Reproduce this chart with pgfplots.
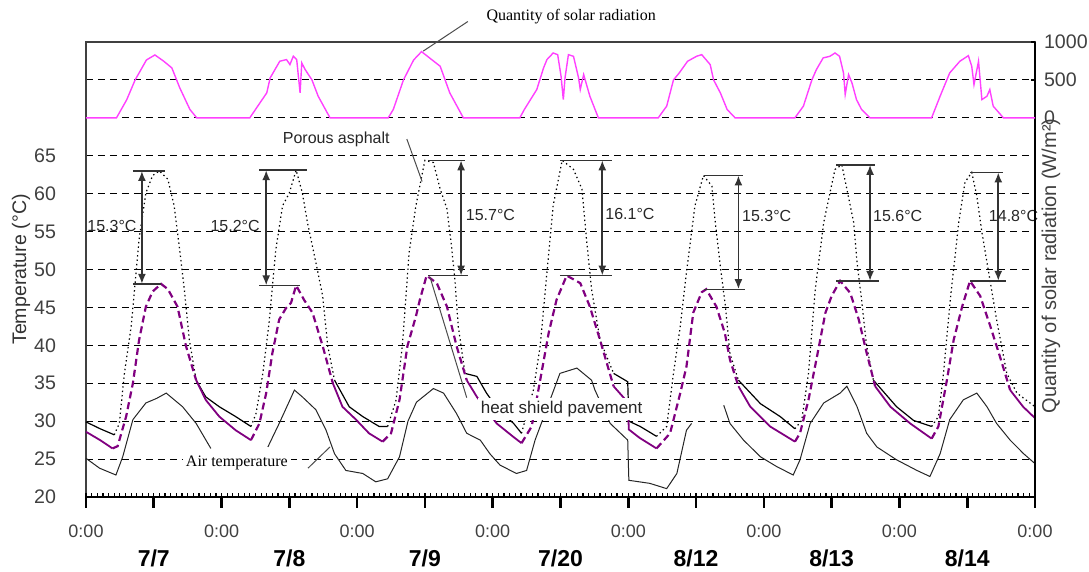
\documentclass[border=0pt]{standalone}
\usepackage{fontspec}
\setmainfont{Liberation Sans}
\newfontfamily\serifface{Liberation Serif}
\usepackage{pgfplots}
\usepackage{pgfplotstable}
\pgfplotsset{compat=1.18}
\usetikzlibrary{arrows.meta}

\definecolor{solar}{RGB}{255,64,255}
\definecolor{hsp}{RGB}{128,0,128}

% h = hours since 0:00 of the first day shown (7 days side by side)
% s = 0 daytime part (dotted / dashed), 1 night part (solid), 0.5 shared point
\pgfplotstableread{
h T s
0 29.9 1
2.5 29.0 1
5.0 28.2 0.5
5.9 29.7 0
6.8 36.3 0
8.0 42.5 0
9.4 54.0 0
10.6 60.1 0
11.8 62.4 0
13.0 63.0 0
14.5 61.9 0
15.6 58.4 0
16.5 53.1 0
17.4 47.4 0
18.3 40.7 0
19.5 35.4 0.5
21.2 33.2 1
23.6 31.9 1
26.5 30.6 1
29.2 29.3 0.5
30.1 31.0 0
31.3 36.3 0
32.4 42.9 0
33.6 52.6 0
34.8 58.4 0
36.0 60.1 0
37.2 63.1 0
38.3 60.1 0
39.2 56.2 0
40.7 50.9 0
41.9 46.5 0
42.8 39.9 0
44.0 35.4 0.5
46.6 31.9 1
49.0 30.6 1
51.9 29.3 1
53.4 29.3 0.5
54.9 32.8 0
56.0 39.9 0
57.2 52.2 0
58.4 58.4 0
60.0 64.4 0
61.5 64.1 0
62.7 60.6 0
63.9 58.0 0
64.7 53.1 0
65.3 48.7 0
65.9 42.5 0
67.1 36.3 0.5
69.2 35.9 1
70.9 33.7 1
73.0 31.5 1
75.7 29.7 1
77.1 28.4 0.5
79.2 34.1 0
80.4 39.9 0
81.6 49.6 0
82.7 58.4 0
84.3 64.4 0
86.3 63.2 0
87.8 60.6 0
88.6 54.0 0
89.5 47.4 0
91.0 40.7 0
93.4 36.3 0.5
95.9 35.2 1
96.1 30.0 1
98.1 29.3 1
101.0 28.0 0.5
102.8 29.3 0
104.0 36.3 0
105.2 42.5 0
106.3 49.6 0
107.8 58.4 0
109.3 62.4 0
110.8 61.0 0
111.4 56.2 0
112.3 50.4 0
113.2 45.1 0
114.0 38.9 0
115.5 35.4 0.5
119.4 32.3 1
122.9 30.6 1
125.5 29.0 0.5
126.7 30.1 0
127.9 36.3 0
129.1 47.4 0
130.6 56.2 0
131.7 60.1 0
132.6 63.2 0
133.8 63.8 0
134.7 60.6 0
135.9 56.2 0
136.5 50.9 0
137.3 46.0 0
138.2 39.9 0
139.4 35.4 0.5
143.5 31.9 1
146.5 30.1 1
149.7 29.3 0.5
150.9 30.6 0
151.8 36.3 0
153.0 46.0 0
154.5 56.2 0
155.6 61.5 0
156.8 62.8 0
157.7 59.7 0
158.6 54.9 0
159.8 49.6 0
161.2 43.4 0
163.0 36.3 0
164.8 33.7 0
168.0 31.9 0
}\asphalt

\pgfplotstableread{
h T s
0 28.6 1
2.5 27.5 1
4.7 26.4 0.5
5.6 26.7 0
7.1 30.6 0
8.3 35.0 0
9.4 40.7 0
10.6 45.1 0
11.8 47.1 0
13.3 48.1 0
14.5 47.4 0
16.2 45.1 0
17.7 39.9 0
19.5 35.4 0.5
21.2 32.8 1
23.6 30.6 1
26.5 28.8 1
29.2 27.5 0.5
30.7 29.7 0
31.9 33.7 0
33.0 39.0 0
34.2 43.4 0
35.4 44.9 0
36.3 45.6 0
37.2 47.9 0
38.6 46.0 0
40.1 44.3 0
41.9 39.9 0
43.7 35.0 0.5
45.4 31.9 1
47.8 30.2 1
50.1 28.4 1
52.5 27.3 0.5
54.0 28.4 0
55.5 32.8 0
56.9 39.9 0
58.4 43.8 0
59.1 46.0 0
60.3 49.2 0
62.1 48.2 0
63.9 45.1 0
65.6 39.9 0
67.4 35.4 0.5
69.2 33.2 1
72.7 29.7 1
75.7 27.9 1
77.1 27.1 0.5
78.9 29.3 0
80.4 35.4 0
81.9 41.6 0
83.3 46.0 0
85.1 49.2 0
87.5 48.2 0
89.2 45.1 0
91.0 40.7 0
93.4 34.6 0.5
95.9 32.5 1
96.1 28.9 1
98.0 27.8 1
101.0 26.4 0.5
103.4 28.4 0
105.2 33.7 0
106.3 37.2 0
107.5 44.3 0
109.0 47.0 0
109.8 47.4 0
111.6 45.1 0
113.1 41.6 0
114.0 38.1 0
115.5 34.6 0.5
117.6 31.9 1
121.1 29.3 1
125.5 27.3 0.5
126.4 28.4 0
127.9 32.8 0
129.4 38.5 0
130.9 44.3 0
132.0 46.5 0
133.5 48.5 0
135.3 46.9 0
136.8 43.4 0
138.2 39.0 0
139.7 34.6 0.5
142.4 31.9 1
145.9 29.7 1
149.7 27.7 0.5
150.9 29.3 0
152.4 35.4 0
153.6 40.7 0
155.1 45.1 0
156.5 48.5 0
158.3 46.5 0
160.1 42.5 0
161.8 38.5 0
163.6 34.1 0.5
165.9 31.9 1
168.0 30.4 1
}\shield

\pgfplotstableread{
h T
0 25.1
2.4 23.8
5.3 22.9
6.5 25.3
8.3 30.2
10.6 32.4
12.5 33.0
14.2 33.7
17.1 31.9
19.5 29.7
22.1 26.4
22.2 nan
32.2 26.6
34.2 29.7
36.9 34.1
38.3 33.2
40.7 31.5
42.5 28.8
44.0 25.7
46.0 23.5
49.0 23.1
51.3 22.0
53.4 22.4
55.5 25.3
57.0 30.0
58.5 32.5
61.5 34.3
63.3 33.7
65.6 31.0
67.4 28.4
69.8 27.5
71.5 25.7
73.3 24.2
76.2 23.1
78.0 23.5
79.5 27.5
80.4 29.3
82.0 32.5
83.9 36.3
86.9 37.0
89.5 35.4
90.1 34.1
92.8 29.7
95.9 27.5
96.1 22.2
99.8 21.8
102.8 21.1
104.6 23.1
106.3 28.8
107.2 29.7
107.3 nan
112.9 32.1
114.0 29.7
116.4 27.5
119.4 25.3
122.3 24.0
125.2 22.9
126.4 24.9
128.2 29.7
130.6 32.4
133.5 33.7
134.7 34.6
136.5 31.9
138.2 28.4
140.0 26.6
143.5 24.9
147.1 23.5
149.4 22.7
151.2 25.7
152.9 30.2
155.3 32.8
157.7 33.7
159.5 31.9
161.2 29.7
163.6 27.5
166.0 25.7
168.0 24.4
}\air

\pgfplotstableread{
h S
0 0
5.4 0
7.2 237
8.7 500
10.7 763
12.2 829
13.7 750
15.2 658
16.6 395
18.4 110
19.6 0
29.0 0
30.2 132
32.0 329
32.6 526
34.3 746
35.5 768
36.1 702
36.7 812
37.3 768
37.9 329
38.2 724
38.8 636
40.0 500
41.1 285
43.2 0
53.5 0
54.4 110
56.2 500
58.0 763
59.4 873
60.9 785
62.7 680
64.4 329
66.8 0
76.8 0
77.6 110
79.8 373
81.0 658
81.6 768
82.7 855
83.5 833
84.1 548
84.5 240
84.8 526
85.4 833
86.3 811
87.2 526
87.5 373
88.1 570
89.2 285
90.7 0
101.3 0
102.8 154
104.0 500
105.0 590
106.5 746
108.1 812
109.0 833
110.5 702
111.1 500
112.3 329
113.5 110
114.9 0
125.5 0
127.0 154
128.5 500
129.3 636
130.5 790
131.7 812
132.6 855
133.4 812
134.1 592
134.4 307
135.0 570
135.6 460
136.4 240
137.3 110
138.8 0
149.7 0
151.2 285
152.9 592
154.7 746
156.2 820
156.8 680
157.2 438
158.0 746
158.6 240
159.5 285
160.0 373
160.6 154
162.4 0
168 0
}\solar

% arrow x, bar left, top bar right, top y, bottom bar right, bottom y, label x, label y, text
\newcommand\gap[9]{%
  \draw[black!80, line width=0.7pt] (axis cs:#2,#4) -- (axis cs:#3,#4);
  \draw[black!80, line width=0.7pt] (axis cs:#2,#6) -- (axis cs:#5,#6);
  \draw[black!80, line width=0.9pt, {Latex[length=5pt,width=4pt]}-{Latex[length=5pt,width=4pt]}]
    (axis cs:#1,#4) -- (axis cs:#1,#6);
  \node[font=\fontsize{8}{9}\selectfont, text=black!85, inner sep=0pt] at (axis cs:#7,#8) {#9};
}

\begin{document}
\begin{tikzpicture}
\useasboundingbox (-43pt,-37.5pt) rectangle (501.5pt,248.5pt);
\begin{axis}[
  at={(0,0)}, anchor=south west,
  scale only axis, width=474.5pt, height=227.5pt,
  xmin=0, xmax=168, ymin=20, ymax=80,
  clip=false,
  unbounded coords=jump,
  axis line style={black!75, line width=0.6pt},
  xtick={0,12,...,168},
  xticklabels={0:00,,0:00,,0:00,,0:00,,0:00,,0:00,,0:00,,0:00},
  xtick pos=bottom, ytick pos=left,
  tick align=outside,
  major tick length=5.5pt,
  xtick style={black, line width=1.3pt},
  ytick={20,25,...,75},
  yticklabels={20,25,30,35,40,45,50,55,60,65,,},
  ytick style={draw=none},
  ymajorgrids,
  major grid style={black, line width=0.55pt, dash pattern=on 3.5pt off 2.5pt},
  yticklabel style={xshift=-6pt, font=\fontsize{9.8}{11}\selectfont, text=black!75},
  xticklabel style={yshift=-5pt, font=\fontsize{9}{10}\selectfont, text=black!75},
  extra x ticks={12,36,60,84,108,132,156},
  extra x tick labels={7/7,7/8,7/9,7/20,8/12,8/13,8/14},
  extra x tick style={xticklabel style={yshift=-12.5pt, font=\bfseries\fontsize{11.5}{12}\selectfont, text=black}},
  ylabel={Temperature (°C)},
  every axis y label/.style={at={(rel axis cs:0,0.5)}, xshift=-32.5pt, rotate=90, anchor=center, font=\fontsize{9.8}{11}\selectfont, text=black!80},
]
% porous asphalt
\addplot[black, line width=0.6pt, dash pattern=on 0.7pt off 1.5pt,
  restrict expr to domain={\thisrow{s}}{0:0.5}] table[x=h, y=T] {\asphalt};
\addplot[black, line width=0.6pt,
  restrict expr to domain={\thisrow{s}}{0.5:1}] table[x=h, y=T] {\asphalt};
% heat shield pavement
\addplot[hsp, line width=1.1pt, dash pattern=on 3.5pt off 2pt,
  restrict expr to domain={\thisrow{s}}{0:0.5}] table[x=h, y=T] {\shield};
\addplot[hsp, line width=0.9pt,
  restrict expr to domain={\thisrow{s}}{0.5:1}] table[x=h, y=T] {\shield};
% air temperature
\addplot[black!85, line width=0.5pt] table[x=h, y=T] {\air};

\gap{9.9}{8.3}{13.9}{63.0}{13.3}{48.1}{4.6}{55.8}{15.3°C}
\gap{31.9}{30.7}{39.2}{63.1}{37.8}{47.9}{26.4}{55.8}{15.2°C}
\gap{66.4}{60.6}{67.1}{64.4}{67.7}{49.2}{71.6}{57.2}{15.7°C}
\gap{91.4}{83.9}{93.1}{64.4}{93.1}{49.2}{96.3}{57.3}{16.1°C}
\gap{115.5}{109.4}{116.3}{62.4}{116.7}{47.4}{120.5}{57.1}{15.3°C}
\gap{138.8}{132.8}{139.7}{63.8}{140.3}{48.5}{143.7}{57.1}{15.6°C}
\gap{161.5}{156.5}{162.3}{62.8}{162.9}{48.5}{164.2}{57.1}{14.8°C}

% callouts
\draw[black!70, line width=0.5pt] (axis cs:56.8,67.2) -- (axis cs:59.5,61.6);
\node[font=\fontsize{8}{9}\selectfont, text=black!85] at (axis cs:44.3,67.2) {Porous asphalt};
\draw[black!70, line width=0.5pt] (axis cs:67.6,82.7) -- (axis cs:59.7,78.8);
\node[font=\serifface\fontsize{8}{9}\selectfont] at (axis cs:85.9,83.4) {Quantity of solar radiation};
\draw[black!70, line width=0.5pt] (axis cs:39.3,23.8) -- (axis cs:43.2,26.6);
\node[font=\serifface\fontsize{8}{9}\selectfont, fill=white, inner sep=1.5pt] at (axis cs:26.7,24.5) {Air temperature};
\draw[black!70, line width=0.5pt] (axis cs:60.9,49.0) -- (axis cs:67.4,33.1);
\node[font=\fontsize{8.5}{9}\selectfont, text=black!85, fill=white, inner sep=1.5pt] at (axis cs:84.2,31.6) {heat shield pavement};
\end{axis}

% second axis: solar radiation on the right, and the hourly minor ticks on the bottom line
\begin{axis}[
  at={(0,0)}, anchor=south west,
  scale only axis, width=474.5pt, height=227.5pt,
  xmin=0, xmax=168, ymin=-5000, ymax=1000,
  axis x line*=bottom, axis y line*=right,
  axis line style={black, line width=0.7pt},
  xtick={0,12,...,168}, xticklabels={},
  minor xtick={0,1,...,168},
  ytick={0,500,1000}, yticklabels={0,500,1000},
  tick align=inside, major tick length=2.2pt, minor tick length=1.8pt,
  tick style={black, line width=0.6pt},
  yticklabel style={xshift=1pt, font=\fontsize{9.8}{11}\selectfont, text=black!75},
  ylabel={Quantity of solar radiation (W/m²)},
  every axis y label/.style={at={(rel axis cs:1,0.508)}, xshift=8pt, rotate=90, anchor=center, font=\fontsize{10}{11}\selectfont, text=black!75},
]
\addplot[solar, line width=0.7pt] table[x=h, y=S] {\solar};
\end{axis}

% third axis: only the 12-hour tick marks below the time axis
\begin{axis}[
  at={(0,0)}, anchor=south west,
  scale only axis, width=474.5pt, height=227.5pt,
  xmin=0, xmax=168, ymin=0, ymax=1,
  axis x line*=bottom, axis y line=none,
  axis line style={black, line width=0.7pt},
  xtick={0,12,...,168}, xticklabels={},
  tick align=outside, major tick length=5.5pt,
  xtick style={black, line width=1pt},
]
\end{axis}
\end{tikzpicture}
\end{document}
